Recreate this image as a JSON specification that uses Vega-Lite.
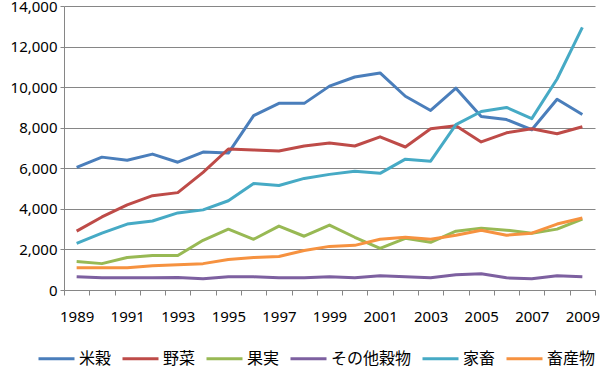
{
  "$schema": "https://vega.github.io/schema/vega-lite/v6.json",
  "autosize": {"type": "none"},
  "padding": {"left": 64, "top": 6, "right": 5, "bottom": 79},
  "width": 531,
  "height": 284,
  "background": "white",
  "config": {
    "view": {"stroke": null},
    "font": "Noto Sans"
  },
  "datasets": {
    "d": [
      {"year": 1989, "s": "米穀", "v": 6050}, {"year": 1990, "s": "米穀", "v": 6550}, {"year": 1991, "s": "米穀", "v": 6400}, {"year": 1992, "s": "米穀", "v": 6700}, {"year": 1993, "s": "米穀", "v": 6300}, {"year": 1994, "s": "米穀", "v": 6800}, {"year": 1995, "s": "米穀", "v": 6750}, {"year": 1996, "s": "米穀", "v": 8600}, {"year": 1997, "s": "米穀", "v": 9200}, {"year": 1998, "s": "米穀", "v": 9200}, {"year": 1999, "s": "米穀", "v": 10050}, {"year": 2000, "s": "米穀", "v": 10500}, {"year": 2001, "s": "米穀", "v": 10700}, {"year": 2002, "s": "米穀", "v": 9550}, {"year": 2003, "s": "米穀", "v": 8850}, {"year": 2004, "s": "米穀", "v": 9950}, {"year": 2005, "s": "米穀", "v": 8550}, {"year": 2006, "s": "米穀", "v": 8400}, {"year": 2007, "s": "米穀", "v": 7900}, {"year": 2008, "s": "米穀", "v": 9400}, {"year": 2009, "s": "米穀", "v": 8650},
      {"year": 1989, "s": "野菜", "v": 2900}, {"year": 1990, "s": "野菜", "v": 3600}, {"year": 1991, "s": "野菜", "v": 4200}, {"year": 1992, "s": "野菜", "v": 4650}, {"year": 1993, "s": "野菜", "v": 4800}, {"year": 1994, "s": "野菜", "v": 5800}, {"year": 1995, "s": "野菜", "v": 6950}, {"year": 1996, "s": "野菜", "v": 6900}, {"year": 1997, "s": "野菜", "v": 6850}, {"year": 1998, "s": "野菜", "v": 7100}, {"year": 1999, "s": "野菜", "v": 7250}, {"year": 2000, "s": "野菜", "v": 7100}, {"year": 2001, "s": "野菜", "v": 7550}, {"year": 2002, "s": "野菜", "v": 7050}, {"year": 2003, "s": "野菜", "v": 7950}, {"year": 2004, "s": "野菜", "v": 8100}, {"year": 2005, "s": "野菜", "v": 7300}, {"year": 2006, "s": "野菜", "v": 7750}, {"year": 2007, "s": "野菜", "v": 7950}, {"year": 2008, "s": "野菜", "v": 7700}, {"year": 2009, "s": "野菜", "v": 8050},
      {"year": 1989, "s": "果実", "v": 1400}, {"year": 1990, "s": "果実", "v": 1300}, {"year": 1991, "s": "果実", "v": 1600}, {"year": 1992, "s": "果実", "v": 1700}, {"year": 1993, "s": "果実", "v": 1700}, {"year": 1994, "s": "果実", "v": 2450}, {"year": 1995, "s": "果実", "v": 3000}, {"year": 1996, "s": "果実", "v": 2500}, {"year": 1997, "s": "果実", "v": 3150}, {"year": 1998, "s": "果実", "v": 2650}, {"year": 1999, "s": "果実", "v": 3200}, {"year": 2000, "s": "果実", "v": 2600}, {"year": 2001, "s": "果実", "v": 2050}, {"year": 2002, "s": "果実", "v": 2550}, {"year": 2003, "s": "果実", "v": 2350}, {"year": 2004, "s": "果実", "v": 2900}, {"year": 2005, "s": "果実", "v": 3050}, {"year": 2006, "s": "果実", "v": 2950}, {"year": 2007, "s": "果実", "v": 2800}, {"year": 2008, "s": "果実", "v": 3000}, {"year": 2009, "s": "果実", "v": 3500},
      {"year": 1989, "s": "その他穀物", "v": 650}, {"year": 1990, "s": "その他穀物", "v": 600}, {"year": 1991, "s": "その他穀物", "v": 600}, {"year": 1992, "s": "その他穀物", "v": 600}, {"year": 1993, "s": "その他穀物", "v": 620}, {"year": 1994, "s": "その他穀物", "v": 550}, {"year": 1995, "s": "その他穀物", "v": 650}, {"year": 1996, "s": "その他穀物", "v": 650}, {"year": 1997, "s": "その他穀物", "v": 600}, {"year": 1998, "s": "その他穀物", "v": 600}, {"year": 1999, "s": "その他穀物", "v": 650}, {"year": 2000, "s": "その他穀物", "v": 600}, {"year": 2001, "s": "その他穀物", "v": 700}, {"year": 2002, "s": "その他穀物", "v": 650}, {"year": 2003, "s": "その他穀物", "v": 600}, {"year": 2004, "s": "その他穀物", "v": 750}, {"year": 2005, "s": "その他穀物", "v": 800}, {"year": 2006, "s": "その他穀物", "v": 600}, {"year": 2007, "s": "その他穀物", "v": 550}, {"year": 2008, "s": "その他穀物", "v": 700}, {"year": 2009, "s": "その他穀物", "v": 650},
      {"year": 1989, "s": "家畜", "v": 2300}, {"year": 1990, "s": "家畜", "v": 2800}, {"year": 1991, "s": "家畜", "v": 3250}, {"year": 1992, "s": "家畜", "v": 3400}, {"year": 1993, "s": "家畜", "v": 3800}, {"year": 1994, "s": "家畜", "v": 3950}, {"year": 1995, "s": "家畜", "v": 4400}, {"year": 1996, "s": "家畜", "v": 5250}, {"year": 1997, "s": "家畜", "v": 5150}, {"year": 1998, "s": "家畜", "v": 5500}, {"year": 1999, "s": "家畜", "v": 5700}, {"year": 2000, "s": "家畜", "v": 5850}, {"year": 2001, "s": "家畜", "v": 5750}, {"year": 2002, "s": "家畜", "v": 6450}, {"year": 2003, "s": "家畜", "v": 6350}, {"year": 2004, "s": "家畜", "v": 8150}, {"year": 2005, "s": "家畜", "v": 8800}, {"year": 2006, "s": "家畜", "v": 9000}, {"year": 2007, "s": "家畜", "v": 8450}, {"year": 2008, "s": "家畜", "v": 10400}, {"year": 2009, "s": "家畜", "v": 12950},
      {"year": 1989, "s": "畜産物", "v": 1100}, {"year": 1990, "s": "畜産物", "v": 1100}, {"year": 1991, "s": "畜産物", "v": 1100}, {"year": 1992, "s": "畜産物", "v": 1200}, {"year": 1993, "s": "畜産物", "v": 1250}, {"year": 1994, "s": "畜産物", "v": 1300}, {"year": 1995, "s": "畜産物", "v": 1500}, {"year": 1996, "s": "畜産物", "v": 1600}, {"year": 1997, "s": "畜産物", "v": 1650}, {"year": 1998, "s": "畜産物", "v": 1950}, {"year": 1999, "s": "畜産物", "v": 2150}, {"year": 2000, "s": "畜産物", "v": 2200}, {"year": 2001, "s": "畜産物", "v": 2500}, {"year": 2002, "s": "畜産物", "v": 2600}, {"year": 2003, "s": "畜産物", "v": 2500}, {"year": 2004, "s": "畜産物", "v": 2700}, {"year": 2005, "s": "畜産物", "v": 2950}, {"year": 2006, "s": "畜産物", "v": 2700}, {"year": 2007, "s": "畜産物", "v": 2800}, {"year": 2008, "s": "畜産物", "v": 3250}, {"year": 2009, "s": "畜産物", "v": 3550}
    ]
  },
  "data": {"name": "d"},
  "mark": {"type": "line", "strokeWidth": 3, "strokeJoin": "round"},
  "encoding": {
    "x": {
      "field": "year",
      "type": "ordinal",
      "scale": {"type": "band", "paddingInner": 0, "paddingOuter": 0},
      "axis": {
        "title": null,
        "labelAngle": 0,
        "tickBand": "extent",
        "tickSize": 5,
        "tickColor": "#868686",
        "domainColor": "#868686",
        "labelFontSize": 15,
        "labelColor": "#000000",
        "labelPadding": 14,
        "labelOverlap": false,
        "labelExpr": "datum.value % 2 == 1 ? datum.label : ''"
      }
    },
    "y": {
      "field": "v",
      "type": "quantitative",
      "scale": {"domain": [0, 14000], "nice": false},
      "axis": {
        "title": null,
        "values": [0, 2000, 4000, 6000, 8000, 10000, 12000, 14000],
        "format": ",d",
        "tickSize": 4,
        "tickColor": "#868686",
        "domainColor": "#868686",
        "gridColor": "#868686",
        "gridWidth": 1,
        "labelFontSize": 15,
        "labelColor": "#000000",
        "labelPadding": 3
      }
    },
    "color": {
      "field": "s",
      "type": "nominal",
      "sort": null,
      "scale": {
        "domain": ["米穀", "野菜", "果実", "その他穀物", "家畜", "畜産物"],
        "range": ["#4A7EBB", "#BE4B48", "#98B954", "#7D60A0", "#46AAC5", "#F69240"]
      },
      "legend": {
        "title": null,
        "orient": "none",
        "direction": "horizontal",
        "legendX": -27,
        "legendY": 333,
        "symbolType": "stroke",
        "symbolSize": 1296,
        "symbolStrokeWidth": 3,
        "labelFont": "Noto Sans CJK JP",
        "labelFontSize": 16,
        "labelColor": "#000000",
        "columnPadding": 4,
        "labelOffset": 3
      }
    }
  }
}
